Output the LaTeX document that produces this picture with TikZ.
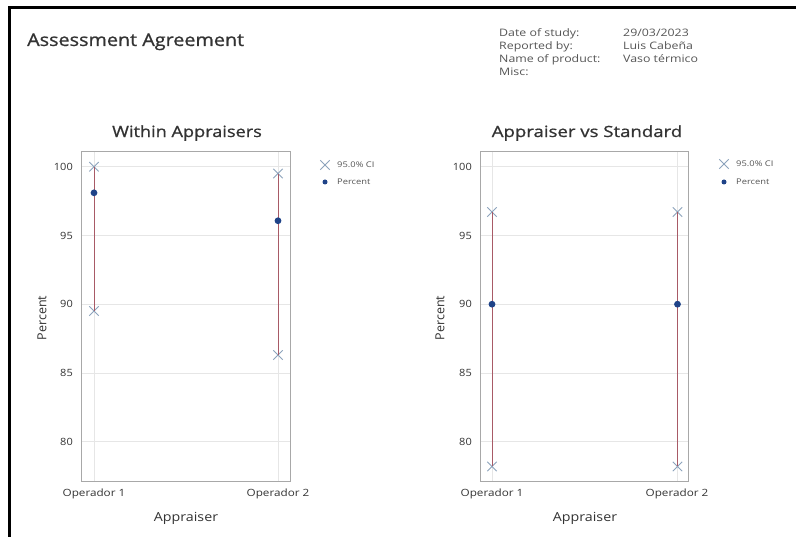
\documentclass[tikz,border=0pt]{standalone}
\usepackage{fontspec}
\setmainfont{Open Sans}
\newfontfamily\semib{Open Sans}[FakeBold=0.8]
\usetikzlibrary{shapes.misc}
\definecolor{txt}{HTML}{333333}
\definecolor{hdr}{HTML}{555555}
\definecolor{gridc}{HTML}{E6E6E6}
\definecolor{framec}{HTML}{A8A8A8}
\definecolor{cil}{HTML}{A85A66}
\definecolor{cix}{HTML}{8CA3BC}
\definecolor{pct}{HTML}{1F4388}
\newcommand{\wx}[2][1.17]{\scalebox{#1}[1]{#2}}
\tikzset{
  frameline/.style={draw=framec, line width=1pt},
  gridline/.style={draw=gridc, line width=0.8pt},
  ciline/.style={draw=cil, line width=0.85pt},
  cimark/.style={cross out, draw=cix, line width=0.9pt, minimum size=8.5pt, inner sep=0pt},
  pctmark/.style={circle, fill=pct, minimum size=6.8pt, inner sep=0pt},
  ticklbl/.style={text=txt, font=\fontsize{10}{12}\selectfont, inner sep=0pt},
  axlbl/.style={text=txt, font=\fontsize{12.5}{14}\selectfont, inner sep=0pt},
  ptitle/.style={text=txt, font=\semib\fontsize{15.5}{18}\selectfont, inner sep=0pt},
  hdrlbl/.style={text=hdr, font=\fontsize{10.3}{12}\selectfont, inner sep=0pt, anchor=base west},
  leglbl/.style={text=hdr, font=\fontsize{7.8}{8}\selectfont, inner sep=0pt, anchor=west},
}
\newcommand{\py}[1]{166.7+(100-#1)*13.75}
\begin{document}
\begin{tikzpicture}[x=1pt,y=-1pt]
\useasboundingbox[fill=white] (0,0) rectangle (796,537);
% outer frame (top and left)
\draw[black, line width=2.5pt] (9.5,537) -- (9.5,7.5) -- (796,7.5);
% main title
\node[text=txt, font=\semib\fontsize{17.5}{20}\selectfont, anchor=base west, inner sep=0pt] (maintitle) at (27,46) {\wx[1.13]{Assessment Agreement}};
% header info
\node[hdrlbl] (h1) at (499,37) {\wx[1.2]{Date of study:}};
\node[hdrlbl] (h2) at (499,50) {\wx[1.2]{Reported by:}};
\node[hdrlbl] (h3) at (499,63) {\wx[1.2]{Name of product:}};
\node[hdrlbl] (h4) at (499,76) {\wx[1.2]{Misc:}};
\node[hdrlbl] (v1) at (623,37) {\wx[1.2]{29/03/2023}};
\node[hdrlbl] (v2) at (623,50) {\wx[1.2]{Luis Cabeña}};
\node[hdrlbl] (v3) at (623,63) {\wx[1.2]{Vaso térmico}};

% ===== Left panel =====
\foreach \v in {80,85,90,95,100} {
  \draw[gridline] (81,{\py{\v}}) -- (290,{\py{\v}});
  \node[ticklbl, anchor=east] at (73,{\py{\v}}) {\wx[1.1]{\v}};
}
\draw[gridline] (94,152) -- (94,482);
\draw[gridline] (278,152) -- (278,482);
\draw[frameline] (81,152) rectangle (290,482);
\node[ptitle] (lt) at (187,133) {\wx[1.17]{Within Appraisers}};
\node[axlbl, rotate=90] (lyl) at (42,318) {Percent};
\node[axlbl] (lxl) at (186,518) {\wx[1.14]{Appraiser}};
\node[ticklbl] (lo1) at (94,494) {\wx{Operador 1}};
\node[ticklbl] (lo2) at (278,494) {\wx{Operador 2}};
% data
\node[cimark] (a1u) at (94,{\py{100}}) {};
\node[cimark] (a1l) at (94,{\py{89.5}}) {};
\node[cimark] (a2u) at (278,{\py{99.5}}) {};
\node[cimark] (a2l) at (278,{\py{86.3}}) {};
\draw[ciline] (a1u.center) -- (a1l.center);
\draw[ciline] (a2u.center) -- (a2l.center);
\node[pctmark] (a1p) at (94,{\py{98.1}}) {};
\node[pctmark] (a2p) at (278,{\py{96.07}}) {};
% legend
\node[cimark] (lgx1) at (325,165) {};
\node[leglbl] (lgt1) at (337,165) {\wx[1.2]{95.0\% CI}};
\node[pctmark, minimum size=5pt] (lgp1) at (325,182) {};
\node[leglbl] (lgt2) at (337,182) {\wx[1.2]{Percent}};

% ===== Right panel =====
\foreach \v in {80,85,90,95,100} {
  \draw[gridline] (480,{\py{\v}}) -- (688,{\py{\v}});
  \node[ticklbl, anchor=east] at (472,{\py{\v}}) {\wx[1.1]{\v}};
}
\draw[gridline] (492,152) -- (492,482);
\draw[gridline] (677.5,152) -- (677.5,482);
\draw[frameline] (480,152) rectangle (688,482);
\node[ptitle] (rt) at (587,133) {\wx[1.2]{Appraiser vs Standard}};
\node[axlbl, rotate=90] (ryl) at (440,318) {Percent};
\node[axlbl] (rxl) at (585,518) {\wx[1.14]{Appraiser}};
\node[ticklbl] (ro1) at (492,494) {\wx{Operador 1}};
\node[ticklbl] (ro2) at (677,494) {\wx{Operador 2}};
% data
\node[cimark] (b1u) at (492,{\py{96.7}}) {};
\node[cimark] (b1l) at (492,{\py{78.2}}) {};
\node[cimark] (b2u) at (677.5,{\py{96.7}}) {};
\node[cimark] (b2l) at (677.5,{\py{78.2}}) {};
\draw[ciline] (b1u.center) -- (b1l.center);
\draw[ciline] (b2u.center) -- (b2l.center);
\node[pctmark] (b1p) at (492,{\py{90}}) {};
\node[pctmark] (b2p) at (677.5,{\py{90}}) {};
% legend
\node[cimark] (lgx2) at (724,164) {};
\node[leglbl] (lgt3) at (736,164) {\wx[1.2]{95.0\% CI}};
\node[pctmark, minimum size=5pt] (lgp2) at (724,182) {};
\node[leglbl] (lgt4) at (736,182) {\wx[1.2]{Percent}};
\end{tikzpicture}
\end{document}
